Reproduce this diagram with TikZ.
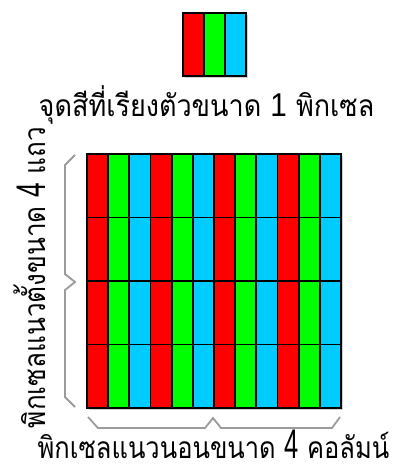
\documentclass[tikz,border=0pt]{standalone}
\usepackage{fontspec}
\newfontfamily\thaifont[Script=Thai]{Loma}
\newfontfamily\digfont{Liberation Sans}
\newcommand\digone{{\digfont\fontsize{33}{33}\selectfont 1}}
\newcommand\digfour{\scalebox{1}[1.38]{\digfont\fontsize{30}{30}\selectfont 4}}
\definecolor{pr}{RGB}{255,0,0}
\definecolor{pg}{RGB}{0,255,0}
\definecolor{pb}{RGB}{0,204,255}
\definecolor{brc}{RGB}{155,155,155}
\tikzset{
  cell/.style={draw=black,line width=1.8pt},
  frame/.style={draw=black,line width=2pt},
  shade/.style={fill=black!18,draw=none},
  bracel/.style={draw=brc,line width=1.8pt,line join=miter},
  lbl/.style={inner sep=0pt,anchor=base,font=\thaifont\fontsize{30}{32}\selectfont},
}
\begin{document}
\begin{tikzpicture}[x=1pt,y=-1pt]
\useasboundingbox (0,0) rectangle (396,465);
% single pixel
\fill[shade] (185,15) rectangle (248,78);
\foreach \i/\col in {0/pr,1/pg,2/pb}
  \draw[cell,fill=\col] ({183+\i*21},13) rectangle ++(21,63);
\draw[frame] (183,13) rectangle (246,76);
% grid
\fill[shade] (89,156) rectangle (343,410);
\foreach \r in {0,...,3}
  \foreach \i/\col in {0/pr,1/pg,2/pb,3/pr,4/pg,5/pb,6/pr,7/pg,8/pb,9/pr,10/pg,11/pb}
    \draw[cell,fill=\col] ({87+\i*21.1667},{154+\r*63.5}) rectangle ++(21.1667,63.5);
\draw[frame] (87,154) rectangle (341,408);
% labels
\node[lbl] (top) at (206.5,117) {\scalebox{0.9}[1]{จุดสีที่เรียงตัวขนาด \digone{} พิกเซล}};
\node[lbl,rotate=90] (left) at (45,277.5) {\scalebox{0.87}[1]{พิกเซลแนวตั้งขนาด \digfour{} แถว}};
\node[lbl] (bot) at (213.5,458) {\scalebox{0.85}[1]{พิกเซลแนวนอนขนาด \digfour{} คอลัมน์}};
% braces
\draw[bracel] (75,155) -- (65,165) -- (65,274) -- (75,282) -- (65,290) -- (65,397) -- (75,407);
\draw[bracel] (88,417) -- (98,428) -- (205,428) -- (213,418) -- (221,428) -- (332,428) -- (340,417);
\end{tikzpicture}
\end{document}
